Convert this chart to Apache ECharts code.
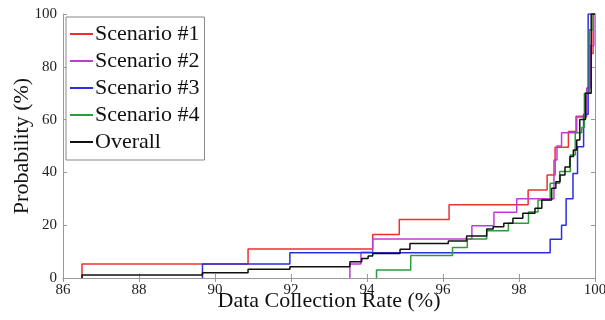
<!DOCTYPE html>
<html>
<head>
<meta charset="utf-8">
<script src="https://cdn.jsdelivr.net/npm/echarts@6/dist/echarts.min.js"></script>
<style>
  html, body { margin: 0; padding: 0; background: #fff; }
  #main { width: 605px; height: 320px; }
</style>
</head>
<body>
<div id="main"></div>
<script>
// step CDF data (x = data collection rate %, p = probability %)
var seriesNames = ['Scenario #1', 'Scenario #2', 'Scenario #3', 'Scenario #4', 'Overall'];

var xS1 = [86.5, 86.5, 90.87, 94.15, 94.85, 96.16, 98.24, 98.74, 98.95, 99.3, 99.5, 99.75, 99.85, 99.95, 100];
var pS1 = [0, 5.3, 11, 16.5, 22.2, 27.7, 33.3, 39, 49.5, 55.5, 61.3, 70, 85, 100, 100];

var xS2 = [93.55, 93.55, 93.84, 94.15, 96.76, 97.34, 97.94, 98.92, 99.0, 99.12, 99.52, 99.78, 99.88, 99.97, 100];
var pS2 = [0, 5.3, 9.8, 14.8, 19.8, 24.9, 30, 44.7, 50, 55, 61, 72, 88, 100, 100];

var xS3 = [89.67, 89.67, 91.97, 98.82, 99.12, 99.24, 99.42, 99.54, 99.7, 99.82, 100];
var pS3 = [0, 5.3, 9.6, 14.7, 20, 30, 39.6, 49.7, 62, 100, 100];

var xS4 = [94.25, 94.25, 95.15, 96.25, 96.64, 97.15, 97.72, 98.25, 98.5, 98.82, 99.07, 99.35, 99.48, 99.65, 99.72, 99.85, 99.95, 100];
var pS4 = [0, 3, 8.5, 11.6, 14.8, 17.9, 20.7, 25, 29.5, 35.9, 40.3, 46.6, 55, 57, 70, 94, 100, 100];

var xAll = [86.5, 86.5, 89.67, 90.87, 91.97, 93.55, 93.86, 94.03, 94.15, 94.87, 95.13, 96.14, 96.62, 97.15, 97.32, 97.6, 97.84, 98.1, 98.42, 98.6, 98.86, 98.97, 99.08, 99.21, 99.34, 99.43, 99.52, 99.6, 99.75, 99.9, 100];
var pAll = [0, 1.1, 2, 3.3, 4.3, 6.2, 7.4, 8.3, 9.3, 10.9, 13.1, 14, 15.9, 18.6, 19.4, 20.7, 22.6, 24.5, 26.4, 29.5, 34, 36.5, 39, 42, 46, 48.5, 52.3, 60, 70, 100, 100];

var xTicks = [86, 88, 90, 92, 94, 96, 98, 100];
var yTicks = [0, 20, 40, 60, 80, 100];

var colors = ['#ee2f2f', '#c23ad6', '#2a2ee0', '#2f9a3a', '#111111'];

function pairs(xs, ps) {
    var out = [];
    for (var i = 0; i < xs.length; i++) out.push([xs[i], ps[i]]);
    return out;
}

window.onload = function () {
    var myChart = echarts.init(document.getElementById('main'));
    var font = 'Liberation Serif';
    var axisGrey = '#999';

    var allX = [xS1, xS2, xS3, xS4, xAll];
    var allP = [pS1, pS2, pS3, pS4, pAll];
    var series = [];
    for (var i = 0; i < seriesNames.length; i++) {
        series.push({
            name: seriesNames[i],
            type: 'line',
            step: 'end',
            showSymbol: false,
            symbol: 'none',
            lineStyle: { width: 1.5, color: colors[i] },
            itemStyle: { color: colors[i] },
            data: pairs(allX[i], allP[i])
        });
    }

    var option = {
        animation: false,
        color: colors,
        textStyle: { fontFamily: font },
        // keep the plot box fixed, don't shrink it for the edge labels
        grid: { left: 63, right: 10, top: 14, bottom: 42, outerBoundsMode: 'none', containLabel: false },
        legend: {
            orient: 'vertical',
            left: 66,
            top: 17,
            icon: 'rect',
            itemWidth: 23,
            itemHeight: 2,
            itemGap: 3,
            padding: [5, 5, 6, 4],
            backgroundColor: '#fff',
            borderColor: '#888',
            borderWidth: 1,
            textStyle: { fontFamily: font, fontSize: 22, lineHeight: 24, color: '#111', padding: [0, 0, 0, -3] },
            data: seriesNames
        },
        xAxis: [
            {
                type: 'value',
                min: xTicks[0],
                max: xTicks[xTicks.length - 1],
                interval: 2,
                name: 'Data Collection Rate (%)',
                nameLocation: 'middle',
                nameGap: 12,
                nameMoveOverlap: false,
                nameTextStyle: { fontFamily: font, fontSize: 22, color: '#111' },
                axisLine: { lineStyle: { color: axisGrey } },
                axisTick: { inside: true, length: 4, lineStyle: { color: axisGrey } },
                axisLabel: { fontFamily: font, fontSize: 15, color: '#222', margin: 5 },
                splitLine: { show: false }
            },
            {
                type: 'value',
                position: 'top',
                min: xTicks[0],
                max: xTicks[xTicks.length - 1],
                interval: 2,
                axisLine: { lineStyle: { color: axisGrey } },
                axisTick: { inside: true, length: 4, lineStyle: { color: axisGrey } },
                axisLabel: { show: false },
                splitLine: { show: false }
            }
        ],
        yAxis: [
            {
                type: 'value',
                min: yTicks[0],
                max: yTicks[yTicks.length - 1],
                interval: 20,
                name: 'Probability (%)',
                nameLocation: 'middle',
                nameGap: 30,
                nameMoveOverlap: false,
                nameTextStyle: { fontFamily: font, fontSize: 22, color: '#111' },
                axisLine: { show: true, lineStyle: { color: axisGrey } },
                axisTick: { show: true, inside: true, length: 4, lineStyle: { color: axisGrey } },
                axisLabel: { fontFamily: font, fontSize: 15, color: '#222', margin: 6 },
                splitLine: { show: false }
            },
            {
                type: 'value',
                position: 'right',
                min: yTicks[0],
                max: yTicks[yTicks.length - 1],
                interval: 20,
                axisLine: { show: true, lineStyle: { color: axisGrey } },
                axisTick: { show: true, inside: true, length: 4, lineStyle: { color: axisGrey } },
                axisLabel: { show: false },
                splitLine: { show: false }
            }
        ],
        series: series
    };

    myChart.setOption(option, true);
};
</script>
</body>
</html>
